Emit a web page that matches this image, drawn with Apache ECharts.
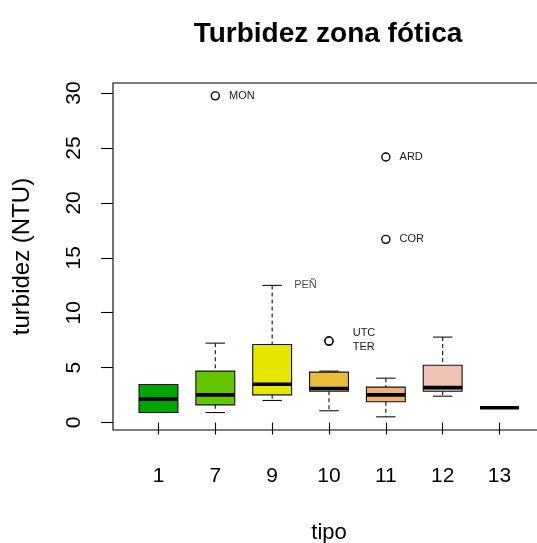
<!DOCTYPE html>
<html>
<head>
<meta charset="utf-8">
<script src="https://cdn.jsdelivr.net/npm/echarts@6/dist/echarts.min.js"></script>
<style>
  html, body { margin: 0; padding: 0; background: #fff; }
  #chart { width: 537px; height: 543px; }
</style>
</head>
<body>
<div id="chart"></div>
<script>
// Turbidity in the photic zone, grouped by water-body type
const tipos = ['1', '7', '9', '10', '11', '12', '13'];
const whiskerLow = [0.91, 0.91, 2.01, 1.07, 0.52, 2.40, 1.34];
const quart1 = [0.91, 1.61, 2.52, 2.85, 1.89, 2.85, 1.34];
const medians = [2.13, 2.52, 3.48, 3.10, 2.52, 3.18, 1.34];
const quart3 = [3.46, 4.68, 7.11, 4.59, 3.22, 5.22, 1.34];
const whiskerHigh = [3.46, 7.23, 12.49, 4.68, 4.04, 7.78, 1.34];
const boxColors = ['#00A600', '#63C600', '#E6E600', '#E9BD3A', '#ECB176', '#EFC2B3', '#F2F2F2'];

// Outlying sites
const outlierTipo = ['7', '11', '11', '10', '10'];
const outlierValue = [29.75, 24.18, 16.68, 7.42, 7.42];
const outlierName = ['MON', 'ARD', 'COR', 'UTC', 'TER'];

// Site named at the top of a whisker
const whiskerSiteTipo = '9';
const whiskerSiteName = 'PEÑ';

const yTicks = [0, 5, 10, 15, 20, 25, 30];
const xTicks = tipos.map((t, i) => i + 1);

const FONT = '"Liberation Sans", Arial, Helvetica, sans-serif';

const boxData = tipos.map((t, i) => [i + 1, whiskerLow[i], quart1[i], medians[i], quart3[i], whiskerHigh[i]]);

function renderBox(params, api) {
  const x = api.value(0);
  const lo = api.coord([x, api.value(1)]);
  const q1 = api.coord([x, api.value(2)]);
  const md = api.coord([x, api.value(3)]);
  const q3 = api.coord([x, api.value(4)]);
  const hi = api.coord([x, api.value(5)]);
  const unit = api.size([1, 0])[0];
  const halfBox = unit * 0.342;
  const halfCap = halfBox / 2;
  const cx = lo[0];
  const stroke = '#111';
  const children = [];
  const dashed = { stroke: stroke, lineWidth: 1.1, lineDash: [4, 3] };
  const solid = { stroke: stroke, lineWidth: 1.1 };
  if (hi[1] < q3[1] - 0.5) {
    children.push({ type: 'line', shape: { x1: cx, y1: hi[1], x2: cx, y2: q3[1] }, style: dashed });
  }
  if (lo[1] > q1[1] + 0.5) {
    children.push({ type: 'line', shape: { x1: cx, y1: q1[1], x2: cx, y2: lo[1] }, style: dashed });
  }
  children.push({ type: 'line', shape: { x1: cx - halfCap, y1: hi[1], x2: cx + halfCap, y2: hi[1] }, style: solid });
  children.push({ type: 'line', shape: { x1: cx - halfCap, y1: lo[1], x2: cx + halfCap, y2: lo[1] }, style: solid });
  children.push({
    type: 'rect',
    shape: { x: cx - halfBox, y: q3[1], width: halfBox * 2, height: q1[1] - q3[1] },
    style: { fill: boxColors[params.dataIndex], stroke: stroke, lineWidth: 1.1 }
  });
  children.push({
    type: 'line',
    shape: { x1: cx - halfBox, y1: md[1], x2: cx + halfBox, y2: md[1] },
    style: { stroke: '#000', lineWidth: 3.6 }
  });
  return { type: 'group', children: children };
}

const labelStyle = { color: '#1a1a1a', fontSize: 11, fontFamily: FONT };

const outlierData = outlierName.map((name, i) => {
  const item = { name: name, value: [tipos.indexOf(outlierTipo[i]) + 1, outlierValue[i]] };
  if (name === 'UTC') item.label = { distance: 19, offset: [0, -8] };
  if (name === 'TER') item.label = { distance: 19, offset: [0, 6] };
  return item;
});

const wIdx = tipos.indexOf(whiskerSiteTipo);

const chart = echarts.init(document.getElementById('chart'), null, { renderer: 'canvas' });
chart.setOption({
  animation: false,
  backgroundColor: '#fff',
  title: {
    text: 'Turbidez zona fótica',
    left: 323,
    top: 15,
    textAlign: 'center',
    textStyle: { fontFamily: FONT, fontSize: 28, fontWeight: 'bold', color: '#000' }
  },
  grid: {
    left: 113, top: 83, width: 432, height: 347,
    outerBoundsMode: 'none',
    containLabel: false,
    show: true, borderColor: '#000', borderWidth: 1.1, backgroundColor: 'transparent'
  },
  xAxis: {
    type: 'value', min: 0.2, max: 7.8,
    name: 'tipo', nameLocation: 'middle', nameGap: 92,
    nameTextStyle: { fontFamily: FONT, fontSize: 22, color: '#000' },
    axisLine: { show: false },
    splitLine: { show: false },
    axisTick: { show: true, customValues: xTicks, length: 12, lineStyle: { color: '#000', width: 1.1 } },
    axisLabel: {
      customValues: xTicks, margin: 36,
      fontFamily: FONT, fontSize: 21, color: '#000',
      formatter: v => tipos[Math.round(v) - 1]
    }
  },
  yAxis: {
    type: 'value', min: -0.68, max: 30.92,
    name: 'turbidez (NTU)', nameLocation: 'middle', nameGap: 79,
    nameTextStyle: { fontFamily: FONT, fontSize: 24, color: '#000' },
    axisLine: { show: false },
    splitLine: { show: false },
    axisTick: { show: true, customValues: yTicks, length: 12, lineStyle: { color: '#000', width: 1.1 } },
    axisLabel: {
      customValues: yTicks, rotate: 90, margin: 28,
      fontFamily: FONT, fontSize: 21, color: '#000',
      formatter: v => String(v)
    }
  },
  series: [
    {
      type: 'custom',
      renderItem: renderBox,
      data: boxData,
      encode: { x: 0, y: [1, 2, 3, 4, 5] },
      z: 2
    },
    {
      type: 'scatter',
      symbol: 'circle',
      symbolSize: 8,
      itemStyle: { color: '#fff', borderColor: '#000', borderWidth: 1.4, opacity: 1 },
      label: Object.assign({ show: true, position: 'right', distance: 9, formatter: p => p.name }, labelStyle),
      data: outlierData,
      z: 3
    },
    {
      type: 'scatter',
      symbolSize: 0,
      label: Object.assign({ show: true, position: 'right', distance: 22, formatter: p => p.name }, labelStyle),
      data: [{ name: whiskerSiteName, value: [wIdx + 1, whiskerHigh[wIdx]] }],
      z: 3
    }
  ]
});
</script>
</body>
</html>
